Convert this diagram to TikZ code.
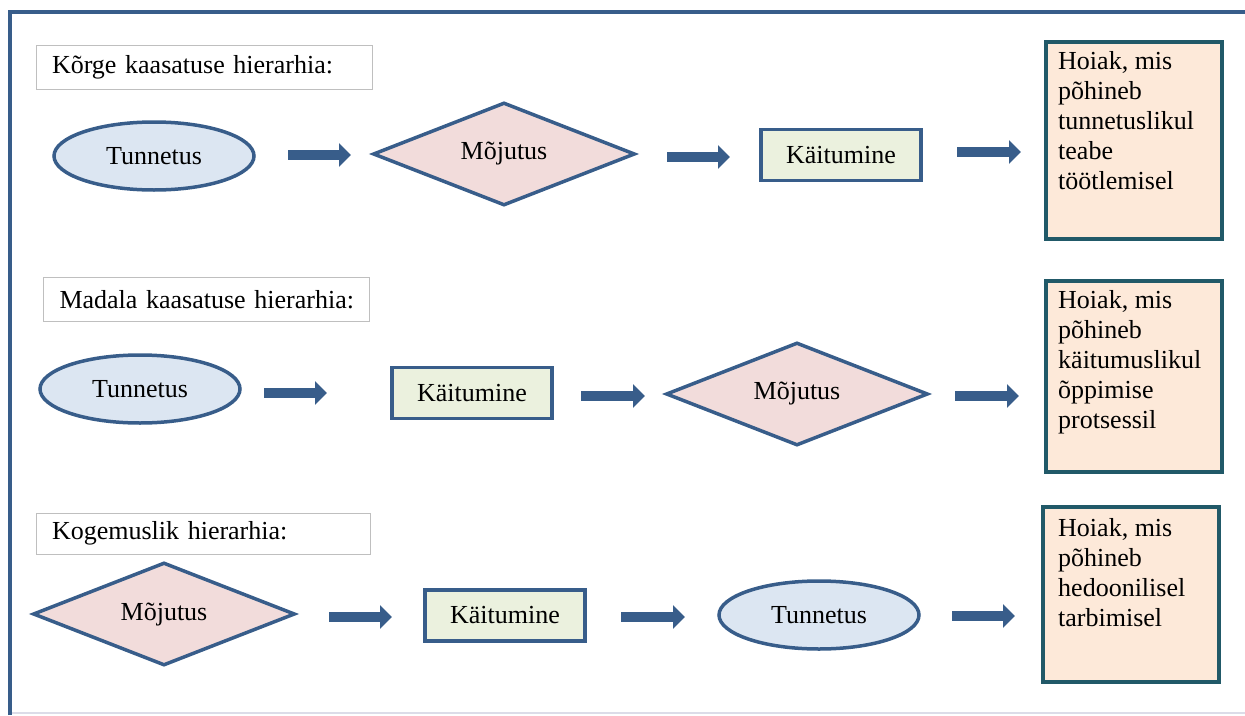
\documentclass[tikz,border=0pt]{standalone}
\usepackage{fontspec}
\setmainfont{Liberation Serif}
\usetikzlibrary{shapes.geometric,arrows.meta}
\definecolor{lineblue}{HTML}{385D8A}
\definecolor{ellfill}{HTML}{DCE6F2}
\definecolor{diafill}{HTML}{F2DCDB}
\definecolor{recfill}{HTML}{EBF1DE}
\definecolor{outfill}{HTML}{FDE9D9}
\definecolor{outline}{HTML}{215968}
\definecolor{titleline}{HTML}{BFBFBF}
\definecolor{bottomline}{HTML}{DCDCE8}
\tikzset{
  x=1pt, y=-1pt,
  every node/.style={font=\fontsize{26}{30}\selectfont},
  titlebox/.style={draw=titleline, line width=1pt, minimum height=44pt, inner xsep=16pt, align=left, fill=white},
  ellnode/.style={ellipse, draw=lineblue, fill=ellfill, line width=3.5pt, minimum width=200pt, minimum height=68pt, inner sep=0pt},
  dianode/.style={diamond, draw=lineblue, fill=diafill, line width=3.5pt, minimum width=262pt, minimum height=103pt, inner sep=0pt, aspect=2.5},
  recnode/.style={rectangle, draw=lineblue, fill=recfill, line width=3.5pt, minimum width=160pt, minimum height=51pt, inner sep=0pt},
  outbox/.style={rectangle, draw=outline, fill=outfill, line width=4pt, anchor=north west, inner sep=0pt},
  outtext/.style={anchor=north west, align=left, inner sep=0pt},
  fatarrow/.style={draw=lineblue, line width=10pt, -{Triangle[length=12pt,width=23pt]}},
  frame/.style={draw=lineblue, line width=4pt},
}
\begin{document}
\begin{tikzpicture}
\useasboundingbox (0,0) rectangle (1245,715);
% frame
\draw[bottomline, line width=1.2pt] (10,713) -- (1245,713);
\draw[frame] (10,715) -- (10,12) -- (1245,12);

% ---------- Row 1 ----------
\node[titlebox, text width=304pt] (t1) at (204,67) {\mbox{Kõrge kaasatuse hierarhia:}};
\node[ellnode] (r1a) at (154,156) {Tunnetus};
\node[dianode] (r1b) at (504,154) {Mõjutus};
\node[recnode] (r1c) at (841,155) {Käitumine};
\node[outbox, minimum width=176pt, minimum height=197pt] (r1d) at (1043.5,39.5) {};
\node[outtext] (r1t) at (1058,51) {Hoiak, mis\\põhineb\\tunnetuslikul\\teabe\\töötlemisel};
\coordinate (a11s) at (288,155); \coordinate (a11e) at (351,155);
\coordinate (a12s) at (667,157); \coordinate (a12e) at (730,157);
\coordinate (a13s) at (957,152); \coordinate (a13e) at (1021,152);
\draw[fatarrow] (a11s) -- (a11e);
\draw[fatarrow] (a12s) -- (a12e);
\draw[fatarrow] (a13s) -- (a13e);

% ---------- Row 2 ----------
\node[titlebox, text width=294pt] (t2) at (206.5,299.5) {\mbox{Madala kaasatuse hierarhia:}};
\node[ellnode] (r2a) at (140,389) {Tunnetus};
\node[recnode] (r2b) at (472,393) {Käitumine};
\node[dianode] (r2c) at (797,394) {Mõjutus};
\node[outbox, minimum width=176pt, minimum height=191pt] (r2d) at (1043.5,278.5) {};
\node[outtext] (r2t) at (1058,290) {Hoiak, mis\\põhineb\\käitumuslikul\\õppimise\\protsessil};
\coordinate (a21s) at (264,393); \coordinate (a21e) at (327,393);
\coordinate (a22s) at (581,396); \coordinate (a22e) at (645,396);
\coordinate (a23s) at (955,396); \coordinate (a23e) at (1019,396);
\draw[fatarrow] (a21s) -- (a21e);
\draw[fatarrow] (a22s) -- (a22e);
\draw[fatarrow] (a23s) -- (a23e);

% ---------- Row 3 ----------
\node[titlebox, text width=302pt, minimum height=41pt] (t3) at (203,533.5) {\mbox{Kogemuslik hierarhia:}};
\node[dianode] (r3a) at (164,614) {Mõjutus};
\node[recnode] (r3b) at (505,615.5) {Käitumine};
\node[ellnode] (r3c) at (819,615) {Tunnetus};
\node[outbox, minimum width=176pt, minimum height=175pt] (r3d) at (1040.5,504.5) {};
\node[outtext] (r3t) at (1058,518) {Hoiak, mis\\põhineb\\hedoonilisel\\tarbimisel};
\coordinate (a31s) at (329,617); \coordinate (a31e) at (392,617);
\coordinate (a32s) at (621,617); \coordinate (a32e) at (685,617);
\coordinate (a33s) at (952,616); \coordinate (a33e) at (1015,616);
\draw[fatarrow] (a31s) -- (a31e);
\draw[fatarrow] (a32s) -- (a32e);
\draw[fatarrow] (a33s) -- (a33e);
\end{tikzpicture}
\end{document}
